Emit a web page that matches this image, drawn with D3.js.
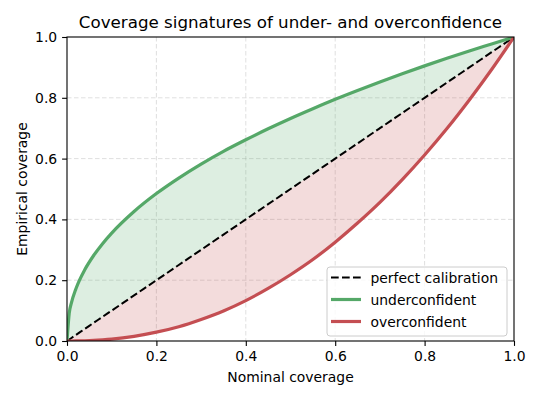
<!DOCTYPE html>
<html><head><meta charset="utf-8">
<script src="https://cdn.jsdelivr.net/npm/d3@7"></script>
<style>body{margin:0;background:#fff}svg{display:block}text{font-family:"DejaVu Sans",sans-serif;fill:#000}</style>
</head><body><svg id="c" width="540" height="400"></svg>
<script>
const title = "Coverage signatures of under- and overconfidence";
const xLabel = "Nominal coverage";
const yLabel = "Empirical coverage";
const ticks = [0, 0.2, 0.4, 0.6, 0.8, 1.0];
const nominal = [0,0.005,0.01,0.02,0.04,0.06,0.08,0.1,0.15,0.2,0.25,0.3,0.35,0.4,0.45,0.5,0.55,0.6,0.65,0.7,0.75,0.8,0.85,0.9,0.95,1.0];
const underconfident = [0,0.092,0.126,0.172,0.235,0.282,0.321,0.355,0.426,0.485,0.536,0.582,0.624,0.662,0.698,0.732,0.764,0.795,0.824,0.852,0.879,0.905,0.930,0.954,0.977,1.0];
const overconfident = [0,0,0.00004,0.0002,0.0008,0.002,0.0039,0.0063,0.0154,0.029,0.047,0.071,0.099,0.133,0.173,0.218,0.268,0.325,0.388,0.456,0.531,0.612,0.699,0.793,0.893,1.0];
const perfect = nominal.slice();
const legendLabels = ["perfect calibration","underconfident","overconfident"];
const green = "#55a868", red = "#c44e52";

const L=67,R=514,T=37,B=341;
const FS=13.9;
const svg=d3.select("#c");
const x=d3.scaleLinear().domain([0,1]).range([L,R]);
const y=d3.scaleLinear().domain([0,1]).range([B,T]);
svg.append("defs").append("clipPath").attr("id","clip").append("rect").attr("x",L).attr("y",T).attr("width",R-L).attr("height",B-T);

// grid
const g=svg.append("g");
ticks.slice(1,5).forEach(t=>{
  g.append("line").attr("x1",x(t)).attr("x2",x(t)).attr("y1",T).attr("y2",B).attr("stroke","#b0b0b0").attr("stroke-opacity",0.4).attr("stroke-width",1).attr("stroke-dasharray","4.5,2.5");
  g.append("line").attr("y1",y(t)).attr("y2",y(t)).attr("x1",L).attr("x2",R).attr("stroke","#b0b0b0").attr("stroke-opacity",0.4).attr("stroke-width",1).attr("stroke-dasharray","4.5,2.5");
});

const pts=(arr)=>nominal.map((n,i)=>[n,arr[i]]);
const area=d3.area().x((d,i)=>x(nominal[i])).y0((d,i)=>y(perfect[i])).y1(d=>y(d)).curve(d3.curveMonotoneX);
const plot=svg.append("g").attr("clip-path","url(#clip)");
plot.append("path").datum(underconfident).attr("d",area).attr("fill",green).attr("fill-opacity",0.2);
plot.append("path").datum(overconfident).attr("d",area).attr("fill",red).attr("fill-opacity",0.2);
const line=d3.line().x(d=>x(d[0])).y(d=>y(d[1])).curve(d3.curveMonotoneX);
plot.append("path").datum(pts(perfect)).attr("d",line).attr("fill","none").attr("stroke","#000").attr("stroke-width",2).attr("stroke-dasharray","7.7,3.3");
plot.append("path").datum(pts(underconfident)).attr("d",line).attr("fill","none").attr("stroke",green).attr("stroke-width",3.2);
plot.append("path").datum(pts(overconfident)).attr("d",line).attr("fill","none").attr("stroke",red).attr("stroke-width",3.2);

// axes
const fmt=d3.format(".1f");
const xa=svg.append("g").attr("transform",`translate(0,${B})`).call(d3.axisBottom(x).tickValues(ticks).tickFormat(fmt).tickSize(4.9).tickPadding(4.9));
const ya=svg.append("g").attr("transform",`translate(${L},0)`).call(d3.axisLeft(y).tickValues(ticks).tickFormat(fmt).tickSize(4.9).tickPadding(4.9));
[xa,ya].forEach(a=>{a.select(".domain").remove();a.selectAll("text").attr("font-size",FS+"px").attr("font-family","DejaVu Sans").attr("fill","#000");a.selectAll(".tick line").attr("stroke","#000").attr("stroke-width",1.1);});
svg.append("rect").attr("x",L).attr("y",T).attr("width",R-L).attr("height",B-T).attr("fill","none").attr("stroke","#000").attr("stroke-width",1.1);

svg.append("text").attr("x",(L+R)/2).attr("y",28).attr("text-anchor","middle").attr("font-size","16.7px").text(title);
svg.append("text").attr("x",(L+R)/2).attr("y",382).attr("text-anchor","middle").attr("font-size",FS+"px").text(xLabel);
svg.append("text").attr("transform",`translate(26.5,${(T+B)/2}) rotate(-90)`).attr("text-anchor","middle").attr("font-size",FS+"px").text(yLabel);

// legend
const lg=svg.append("g");
lg.append("rect").attr("x",327).attr("y",267).attr("width",180).attr("height",69).attr("rx",3).attr("fill","#fff").attr("fill-opacity",0.8).attr("stroke","#cccccc").attr("stroke-width",1);
const styles=[{c:"#000",w:2,d:"7.7,3.3"},{c:green,w:3.2,d:null},{c:red,w:3.2,d:null}];
const rows=[277.5,299.5,321.5];
legendLabels.forEach((lab,i)=>{
  const l=lg.append("line").attr("x1",331).attr("x2",361).attr("y1",rows[i]).attr("y2",rows[i]).attr("stroke",styles[i].c).attr("stroke-width",styles[i].w);
  if(styles[i].d) l.attr("stroke-dasharray",styles[i].d);
  lg.append("text").attr("x",370.5).attr("y",rows[i]).attr("dy","0.36em").attr("font-size",FS+"px").text(lab);
});
</script></body></html>
